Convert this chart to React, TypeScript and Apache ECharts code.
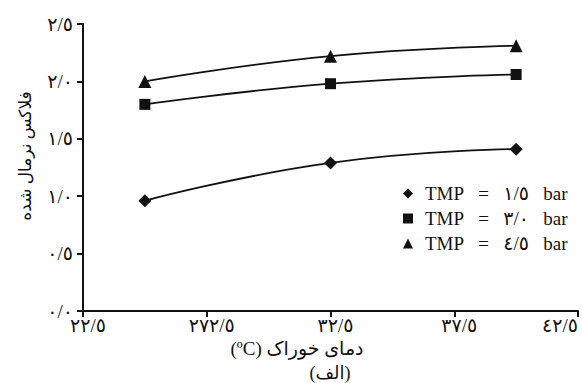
import React, { useEffect, useRef } from "react";
import * as echarts from "echarts";

const xTickValues = [22.5, 27.5, 32.5, 37.5, 42.5];
const xTickLabels = ["٢٢/٥", "٢٧٢/٥", "٣٢/٥", "٣٧/٥", "٤٢/٥"];
const yTickValues = [0, 0.5, 1, 1.5, 2, 2.5];
const yTickLabels = ["٠/٠", "٠/٥", "١/٠", "١/٥", "٢/٠", "٢/٥"];

const temperatures = [25, 32.5, 40];
const seriesNames = ["TMP = ١/٥ bar", "TMP = ٣/٠ bar", "TMP = ٤/٥ bar"];
const tmp15 = [0.96, 1.29, 1.41];
const tmp30 = [1.8, 1.98, 2.06];
const tmp45 = [2.0, 2.22, 2.31];
const symbols = ["diamond", "rect", "triangle"];
const symbolSizes = [13, 11, 13];

const yAxisTitle = "فلاکس نرمال شده";
const xAxisTitle = "(ºC) دمای خوراک";
const caption = "(الف)";

const FONT = "'Liberation Serif', 'DejaVu Sans', serif";

export default function App() {
  const ref = useRef<HTMLDivElement>(null);
  useEffect(() => {
    if (!ref.current) return;
    const chart = echarts.init(ref.current, null, { renderer: "svg" });
    const values = [tmp15, tmp30, tmp45];
    const series = values.map((vals, i) => ({
      name: seriesNames[i],
      type: "line",
      smooth: 0.5,
      data: vals.map((v, j) => [temperatures[j], v]),
      symbol: symbols[i],
      symbolSize: symbolSizes[i],
      itemStyle: { color: "#111" },
      lineStyle: { color: "#111", width: 1.8 },
      z: 3,
    }));
    chart.setOption({
      animation: false,
      backgroundColor: "#fff",
      grid: { left: 83, right: 4, top: 24, bottom: 72 },
      xAxis: {
        type: "value",
        min: 22.5,
        max: 42.5,
        interval: 2.5,
        splitLine: { show: false },
        axisLine: { show: true, lineStyle: { color: "#111", width: 2 } },
        axisTick: {
          show: true,
          length: 6,
          customValues: xTickValues,
          lineStyle: { color: "#111", width: 2 },
        },
        axisLabel: {
          customValues: xTickValues,
          formatter: (v: number) => {
            const k = xTickValues.findIndex((t) => Math.abs(t - v) < 1e-6);
            return k >= 0 ? xTickLabels[k] : "";
          },
          color: "#111",
          fontSize: 19,
          fontFamily: FONT,
          margin: 5,
          padding: [0, 0, 0, 10],
          alignMaxLabel: "right",
        },
      },
      yAxis: {
        type: "value",
        min: 0,
        max: 2.5,
        interval: 0.5,
        splitLine: { show: false },
        axisLine: { show: true, lineStyle: { color: "#111", width: 2 } },
        axisTick: { show: true, length: 6, lineStyle: { color: "#111", width: 2 } },
        axisLabel: {
          formatter: (v: number) => {
            const k = yTickValues.findIndex((t) => Math.abs(t - v) < 1e-6);
            return k >= 0 ? yTickLabels[k] : "";
          },
          color: "#111",
          fontSize: 19,
          fontFamily: FONT,
          margin: 10,
        },
      },
      legend: {
        orient: "vertical",
        left: 398,
        top: 179,
        itemWidth: 10,
        itemHeight: 10,
        itemGap: 6,
        data: seriesNames.map((n, i) => ({ name: n, icon: symbols[i] })),
        itemStyle: { color: "#111" },
        formatter: (n: string) => n.replace(/ /g, "\u00a0\u00a0\u00a0"),
        textStyle: {
          color: "#111",
          fontSize: 19,
          fontFamily: FONT,
          padding: [0, 0, 0, 7],
        },
      },
      graphic: [
        {
          type: "text",
          x: 25,
          y: 156,
          rotation: Math.PI / 2,
          style: {
            text: yAxisTitle,
            align: "center",
            verticalAlign: "middle",
            fill: "#111",
            fontSize: 17,
            fontFamily: FONT,
          },
        },
        {
          type: "text",
          x: 297,
          y: 348,
          style: {
            text: xAxisTitle,
            align: "center",
            verticalAlign: "middle",
            fill: "#111",
            fontSize: 19,
            fontFamily: FONT,
          },
        },
        {
          type: "text",
          x: 330,
          y: 373,
          style: {
            text: caption,
            align: "center",
            verticalAlign: "middle",
            fill: "#111",
            fontSize: 18,
            fontFamily: FONT,
          },
        },
      ],
      series,
    });
    return () => chart.dispose();
  }, []);
  return <div ref={ref} style={{ width: 582, height: 383, position: "absolute", left: 0, top: 0 }} />;
}
